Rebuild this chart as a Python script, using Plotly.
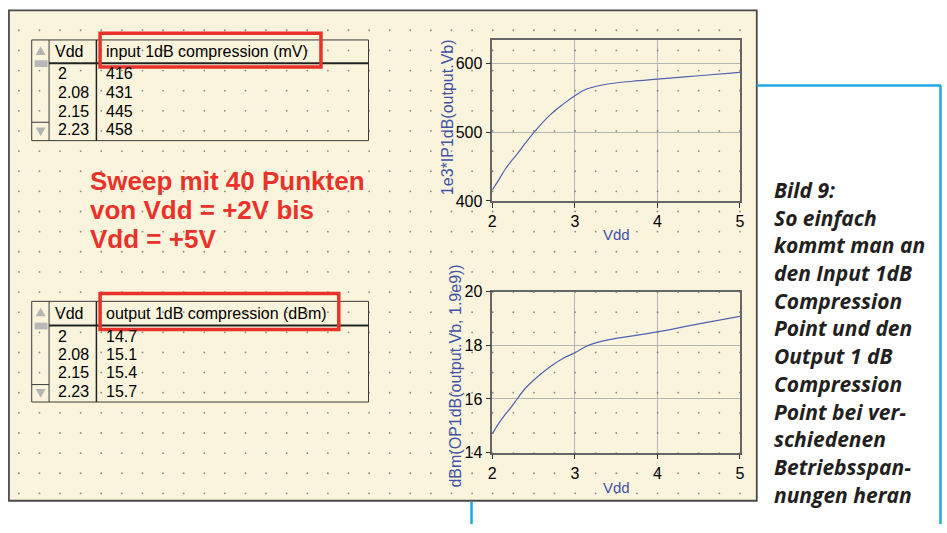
import numpy as np
import plotly.graph_objects as go

W, H = 947, 533

# ---------------- data ----------------
vdd_table = [2, 2.08, 2.15, 2.23]
ip1db_table = [416, 431, 445, 458]
op1db_table = [14.7, 15.1, 15.4, 15.7]

vdd_curve = [2.0, 2.08, 2.15, 2.23, 2.3, 2.4, 2.5, 2.7, 2.85, 3.0, 3.15, 3.4, 3.7, 4.0, 4.5, 5.0]
ip1db_curve = [416, 431, 445, 458, 468, 484, 499, 525, 540, 553, 563, 570, 574, 577, 582, 587]
op1db_curve = [14.7, 15.1, 15.4, 15.7, 16.0, 16.4, 16.7, 17.2, 17.5, 17.72, 17.98, 18.2, 18.35, 18.5, 18.8, 19.08]

x_ticks = [2, 3, 4, 5]
top_y_ticks = [400, 500, 600]
bot_y_ticks = [14, 16, 18, 20]

table1_header = ["Vdd", "input 1dB compression (mV)"]
table2_header = ["Vdd", "output 1dB compression (dBm)"]
caption_lines = ["Bild 9:", "So einfach", "kommt man an", "den Input 1dB", "Compression",
                 "Point und den", "Output 1 dB", "Compression", "Point bei ver-",
                 "schiedenen", "Betriebsspan-", "nungen heran"]
sweep_lines = ["Sweep mit 40 Punkten", "von Vdd = +2V bis", "Vdd = +5V"]

# ---------------- helpers (page pixels -> paper fractions) ----------------
def px(x):
    return x / W

def py(y):
    return 1 - y / H

CREAM = "#FBF4DC"
DARK = "#3a3a3a"
RED = "#E8322A"
BLUE_T = "#4052A8"
LINE = "#5062B4"
CYAN = "#1FA8E1"
ARIAL = "Arial, Liberation Sans, sans-serif"

shapes = []
annotations = []

def rect(x0, y0, x1, y1, color, width=1, fill=None, layer="above"):
    d = dict(type="rect", xref="paper", yref="paper", x0=px(x0), x1=px(x1), y0=py(y1), y1=py(y0),
             line=dict(color=color, width=width), layer=layer)
    if fill:
        d["fillcolor"] = fill
    shapes.append(d)

def line(x0, y0, x1, y1, color, width=1, layer="above"):
    shapes.append(dict(type="line", xref="paper", yref="paper", x0=px(x0), x1=px(x1),
                       y0=py(y0), y1=py(y1), line=dict(color=color, width=width), layer=layer))

def tri(cx, cy, up=True, color="#B4B4B4"):
    w, h = 5.0, 4.5
    if up:
        p = [(cx - w, cy + h), (cx + w, cy + h), (cx, cy - h)]
    else:
        p = [(cx - w, cy - h), (cx + w, cy - h), (cx, cy + h)]
    path = "M " + " L ".join(f"{px(a):.5f},{py(b):.5f}" for a, b in p) + " Z"
    shapes.append(dict(type="path", xref="paper", yref="paper", path=path,
                       fillcolor=color, line=dict(width=0), layer="above"))

def text(x, y, s, size, color="black", xanchor="left", family=ARIAL, angle=0):
    annotations.append(dict(x=px(x), y=py(y), xref="paper", yref="paper", text=s, showarrow=False,
                            xanchor=xanchor, yanchor="middle", textangle=angle,
                            font=dict(size=size, color=color, family=family)))

# panel
rect(5, 2.5, 760, 509, "#4a4a4a", width=1.8, fill=CREAM, layer="below")

# cyan frame lines
line(760, 80, 946, 80, CYAN, 2.5)
line(945.5, 80, 945.5, 533, CYAN, 2.5)
line(472, 510, 472, 533, CYAN, 2.5)

# tables
def table(top, hdr_line, rows_y, vals, header, redbox, sb_line):
    bottom = top + 104
    rect(28, top, 368, bottom, DARK, 1)
    line(45.5, top, 45.5, bottom, DARK, 1)
    line(93.3, top, 93.3, bottom, "#222222", 1.5)
    line(45.5, hdr_line, 368, hdr_line, "#222222", 2)
    line(28, sb_line, 45.5, sb_line, DARK, 1)
    rect(31, hdr_line - 3, 44, hdr_line + 4, "#B8B8B8", 0, fill="#B8B8B8")
    tri(37, top + 11, up=True)
    tri(37, bottom - 9, up=False)
    hy = (top + hdr_line) / 2
    text(49, hy, header[0], 16)
    text(101, hy, header[1], 16)
    for ry, v, vv in zip(rows_y, vdd_table, vals):
        text(53, ry, f"{v:g}", 16)
        text(101, ry, f"{vv:g}", 16)
    rect(redbox[0], redbox[1], redbox[2], redbox[3], RED, 3.5)

table(33, 57, [68, 87.5, 107, 126], ip1db_table, table1_header, (97, 26, 320, 61), 118)
table(303, 328, [339, 358, 377, 396.5], op1db_table, table2_header, (97, 295, 338, 332), 389)

# red sweep text
for i, s in enumerate(sweep_lines):
    text(85, 179 + i * 30, f"<b>{s}</b>", 26, color=RED)

# caption
for i, s in enumerate(caption_lines):
    text(775, 188 + i * 28.6, f"<b><i>{s}</i></b>", 21, color="#231F20", family="Open Sans, Lato, sans-serif")

# axis titles
text(618, 234, "Vdd", 15, color=BLUE_T, xanchor="center")
text(618, 495, "Vdd", 15, color=BLUE_T, xanchor="center")
text(448, 113, "1e3*IP1dB(output.Vb)", 16, color=BLUE_T, xanchor="center", angle=-90)
text(456, 380, "dBm(OP1dB(output.Vb, 1.9e9))", 16, color=BLUE_T, xanchor="center", angle=-90)

fig = go.Figure()

# background dot grid (decorative) on a full-page overlay axis
gx = np.arange(15, 758, 20.8)
gy = np.arange(23, 506, 20.8)
GX, GY = np.meshgrid(gx, gy)
fig.add_trace(go.Scatter(x=GX.ravel(), y=GY.ravel(), mode="markers", xaxis="x3", yaxis="y3",
                         marker=dict(size=1.8, color="#666666", opacity=0.75), hoverinfo="skip",
                         showlegend=False))

fig.add_trace(go.Scatter(x=vdd_curve, y=ip1db_curve, mode="lines", line=dict(color=LINE, width=1.2, shape="spline"),
                         xaxis="x", yaxis="y", showlegend=False))
fig.add_trace(go.Scatter(x=vdd_curve, y=op1db_curve, mode="lines", line=dict(color=LINE, width=1.2, shape="spline"),
                         xaxis="x2", yaxis="y2", showlegend=False))

ax_common = dict(showline=True, mirror=True, linecolor="#666666", linewidth=1.5,
                 showgrid=True, gridcolor="#B5B5B5", gridwidth=1, zeroline=False,
                 ticks="outside", ticklen=5, tickcolor="#333333",
                 tickfont=dict(size=16, color="black", family=ARIAL))

fig.update_layout(
    width=W, height=H, autosize=False,
    margin=dict(l=0, r=0, t=0, b=0),
    paper_bgcolor="white", plot_bgcolor="rgba(0,0,0,0)",
    xaxis=dict(domain=[px(493), px(743)], range=[2, 5], tickvals=x_ticks, anchor="y", **ax_common),
    yaxis=dict(domain=[py(199.3), py(33)], range=[400, 634], tickvals=top_y_ticks, anchor="x", **ax_common),
    xaxis2=dict(domain=[px(493), px(743)], range=[2, 5], tickvals=x_ticks, anchor="y2", **ax_common),
    yaxis2=dict(domain=[py(459.3), py(293)], range=[14, 20], tickvals=bot_y_ticks, anchor="x2", **ax_common),
    xaxis3=dict(domain=[0, 1], range=[0, W], visible=False, anchor="y3"),
    yaxis3=dict(domain=[0, 1], range=[H, 0], visible=False, anchor="x3"),
    shapes=shapes, annotations=annotations,
)

fig.write_html(
    "out.html",
    config={"displayModeBar": False},
    post_script="document.body.style.margin='0';document.body.style.overflow='hidden';"
                "document.documentElement.style.overflow='hidden';",
)
